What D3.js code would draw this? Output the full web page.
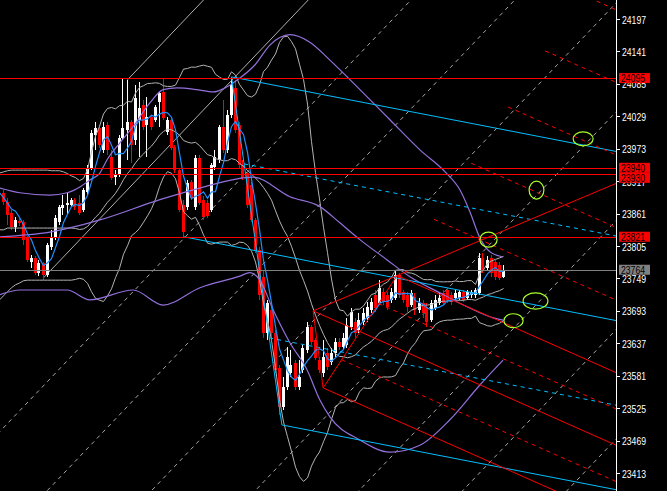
<!DOCTYPE html>
<html><head><meta charset="utf-8">
<script src="https://cdn.jsdelivr.net/npm/d3@7/dist/d3.min.js"></script>
<style>
html,body{margin:0;padding:0;background:#000;overflow:hidden}
svg{display:block}
text{font-family:"Liberation Sans Narrow","Liberation Sans",Arial,sans-serif;font-size:10.5px}
</style></head><body>
<svg id="chart" width="667" height="491"></svg>
<script>
// ---------- DATA ----------
const FIRST = -1; // index of first (partially visible) candle
const open = [23919,23897,23881,23862,23838,23848,23847,23819,23778,23784,23759,23776,23755,23803,23819,23847,23871,23876,23876,23885,23879,23867,23898,23940,23997,24009,23971,24014,23959,23924,23928,23992,24005,24019,23988,24023,24049,24014,24028,24023,24054,24071,24002,24023,23976,23936,23876,23872,23916,23872,23957,23885,23879,23867,23942,23954,24011,23971,24031,24078,24014,23945,23931,23910,23850,23798,23752,23655,23695,23655,23594,23527,23562,23586,23603,23562,23591,23625,23665,23643,23608,23586,23620,23605,23620,23639,23631,23634,23665,23674,23660,23674,23681,23695,23721,23707,23726,23721,23712,23715,23755,23726,23721,23703,23717,23695,23707,23700,23677,23698,23707,23724,23729,23721,23715,23715,23726,23715,23721,23721,23724,23784,23767,23784,23778,23772,23752];
const high = [23928,23902,23888,23867,23855,23854,23850,23822,23790,23788,23781,23778,23810,23833,23859,23876,23893,23897,23888,23888,23893,23905,23945,24005,24019,24014,24019,24019,23971,23936,23997,24095,24092,24023,24083,24088,24057,24062,24031,24049,24071,24093,24028,24028,23980,23940,23885,23919,23919,23962,23962,23892,23885,23948,23971,24014,24057,24040,24097,24092,24019,23954,23936,23916,23854,23803,23764,23712,23703,23660,23600,23579,23631,23625,23608,23608,23634,23674,23669,23646,23613,23643,23629,23629,23646,23646,23655,23681,23698,23681,23689,23698,23708,23715,23729,23746,23733,23726,23733,23764,23759,23729,23726,23729,23724,23715,23712,23707,23712,23721,23724,23729,23733,23726,23729,23729,23729,23729,23729,23733,23793,23793,23788,23790,23781,23778,23772];
const low = [23892,23876,23841,23833,23829,23840,23807,23778,23767,23755,23753,23746,23752,23798,23816,23841,23859,23859,23872,23867,23859,23864,23893,23936,23971,23974,23966,23962,23919,23910,23924,23988,23954,23948,23980,23959,24005,23959,24005,24019,24011,24023,23997,23971,23931,23864,23821,23867,23885,23867,23876,23850,23854,23864,23936,23948,23966,23966,24026,24000,23940,23919,23871,23847,23793,23712,23646,23643,23646,23586,23513,23522,23556,23579,23556,23556,23586,23620,23634,23608,23586,23579,23591,23600,23613,23625,23625,23629,23660,23646,23655,23669,23674,23689,23691,23703,23703,23695,23707,23712,23715,23707,23691,23700,23686,23689,23681,23665,23674,23695,23703,23703,23707,23703,23712,23712,23708,23712,23715,23715,23721,23759,23764,23752,23746,23746,23750];
const close = [23897,23881,23859,23838,23850,23845,23816,23781,23784,23759,23776,23755,23807,23819,23854,23872,23876,23879,23885,23872,23862,23902,23940,24000,24009,23980,24011,23971,23923,23928,23992,24009,24019,23980,24061,24043,24011,24028,24011,24045,24069,24026,24023,23974,23936,23867,23829,23914,23888,23957,23879,23855,23857,23945,23959,24011,23971,24031,24083,24005,23945,23924,23876,23850,23798,23721,23655,23707,23655,23591,23527,23562,23613,23600,23562,23579,23629,23665,23639,23612,23591,23613,23596,23620,23639,23631,23646,23669,23691,23655,23677,23689,23700,23708,23698,23733,23708,23700,23726,23755,23721,23712,23700,23724,23695,23707,23689,23674,23707,23712,23715,23707,23712,23708,23724,23726,23712,23726,23726,23729,23784,23764,23781,23759,23752,23750,23764];

const priceTicks = [24197,24141,24085,24029,23973,23917,23861,23805,23749,23693,23637,23581,23525,23469,23413];
const redLevels = [24095,23940,23930,23821];
const lastPrice = 23764;

// Bollinger(20) lead values (bars before a full window is available)
const grayUpperLead = [23931,23933,23935,23936,23936,23936,23936,23936,23936,23936,23936,23936,23936,23935,23935,23935,23933,23930,23926];
const grayMidLead   = [23833,23833,23836,23836,23836,23836,23836,23836,23836,23836,23836,23836,23836,23836,23836,23836,23836,23836,23836];
const grayLowerLead = [23712,23719,23726,23733,23738,23741,23745,23746,23746,23746,23746,23746,23746,23746,23746,23746,23746,23746,23746];

// slow band (purple): [bar, price]
const purpleUpper = [[-0.9,23905],[4.1,23897],[11.6,23893],[15.9,23897],[19.1,23907],[21.6,23919],[24.1,23931],[25.9,23954],[29.1,23983],[32.4,24011],[36.6,24052],[39.9,24075],[43.4,24078],[48.4,24075],[52.4,24071],[55.9,24080],[59.1,24095],[62.9,24118],[66.6,24152],[71.6,24170],[76.6,24157],[81.6,24126],[89.1,24075],[96.6,24023],[104.1,23971],[110.4,23933],[114.1,23902],[116.6,23864],[119.1,23819],[121.6,23795],[124.9,23786]];
const purpleMid = [[-0.9,23821],[11.6,23829],[24.1,23850],[39.1,23885],[49.1,23905],[62.4,23924],[71.6,23890],[79.1,23873],[84.1,23845],[89.1,23816],[95.9,23781],[101.6,23752],[109.1,23724],[115.9,23700],[122.4,23681],[124.9,23677]];
const purpleLower = [[-0.9,23721],[4.1,23729],[15.9,23729],[21.6,23712],[32.4,23729],[39.9,23703],[49.1,23733],[59.1,23753],[61.6,23759],[64.1,23746],[67.4,23695],[71.6,23638],[75.9,23591],[79.1,23539],[81.6,23510],[89.1,23470],[96.6,23449],[104.1,23461],[111.6,23505],[119.1,23565],[124.9,23608]];

// Andrews pitchforks: A, B, C anchor points [bar, price]
const blueFork = [[45,23821],[57,24097],[69.6,23496]];
const redFork  = [[77.4,23693],[98.4,23754],[79.9,23560]];
const forkLevels = [-1,-0.5,0.5,1,2,3,4,5,6];

// diagonal grid: prices at reference bar, slope in price per bar
const gridRefBar = 151;
const gridPrices = [24586,24398,24209,24021,23833,23645,23456];
const gridSlope = 7.25;
// solid rays parallel to the grid, from the two pivots [bar, price]
const gridRays = [[10,23750],[31,24092]];

// ellipses marked on chart: [bar1, price1, bar2, price2]
const ellipses = [[142.4,24002,147.4,23978],[131.4,23917,135.1,23886],[119.1,23829,123.4,23803],[129.9,23724,136.1,23696],[125.1,23688,129.9,23664]];

// ---------- DRAW ----------
const W=667,H=491,PR=616;
const svg=d3.select('#chart');
svg.append('rect').attr('width',W).attr('height',H).attr('fill','#000');
const x=d3.scaleLinear().domain([0,125]).range([3.5,503.5]);
const y=d3.scaleLinear().domain([23413,24197]).range([473,19]);
svg.append('defs').append('clipPath').attr('id','plot').append('rect').attr('x',0).attr('y',0).attr('width',PR).attr('height',H);
const g=svg.append('g').attr('clip-path','url(#plot)');
const line=d3.line().x(d=>x(d[0])).y(d=>y(d[1]));
const smooth=d3.line().x(d=>x(d[0])).y(d=>y(d[1])).curve(d3.curveMonotoneX);
const xEndBar=x.invert(PR+30), xStartBar=x.invert(-30);

// diagonal grid
const gGrid=g.append('g').attr('fill','none');
gridPrices.forEach(p=>{
  const p0=p+gridSlope*(xStartBar-gridRefBar), p1=p+gridSlope*(xEndBar-gridRefBar);
  gGrid.append('path').attr('d',line([[xStartBar,p0],[xEndBar,p1]])).attr('stroke','#a8a8a8').attr('stroke-width',1).attr('stroke-dasharray','4,4');
});
gridRays.forEach(P=>{
  gGrid.append('path').attr('d',line([P,[xEndBar,P[1]+gridSlope*(xEndBar-P[0])]])).attr('stroke','#b0b0b0');
});

// indicators
const N=20;
const gU=[],gM=[],gL=[];
close.forEach((c,k)=>{
  const i=FIRST+k;
  if(k>=N-1){const w=close.slice(k-N+1,k+1);const m=d3.mean(w);const sd=Math.sqrt(d3.mean(w,v=>(v-m)*(v-m)));gU.push([i,m+2*sd]);gM.push([i,m]);gL.push([i,m-2*sd]);}
  else{gU.push([i,grayUpperLead[k]]);gM.push([i,grayMidLead[k]]);gL.push([i,grayLowerLead[k]]);}
});
const ma=close.map((c,k)=>{const w=close.slice(Math.max(0,k-4),k+1);return [FIRST+k,d3.mean(w)];});
const gInd=g.append('g').attr('fill','none');
[gU,gM,gL].forEach(s=>gInd.append('path').attr('d',line(s)).attr('stroke','#b4b4b4').attr('stroke-width',1));
[purpleUpper,purpleMid,purpleLower].forEach(s=>gInd.append('path').attr('d',smooth(s)).attr('stroke','#9370db').attr('stroke-width',1.2));

// candles
const candles=open.map((o,k)=>({i:FIRST+k,o,h:high[k],l:low[k],c:close[k]}));
const gC=g.append('g').attr('shape-rendering','crispEdges');
candles.forEach(d=>{
  const col=d.c>=d.o?'#ffffff':'#ff0000';
  const cx=Math.round(x(d.i))-0.5;
  gC.append('line').attr('x1',cx).attr('x2',cx).attr('y1',y(Math.max(d.h,d.o,d.c))).attr('y2',y(Math.min(d.l,d.o,d.c))).attr('stroke',col);
  const top=y(Math.max(d.o,d.c)), bot=y(Math.min(d.o,d.c));
  gC.append('rect').attr('x',cx-1.5).attr('width',3).attr('y',top).attr('height',Math.max(1,bot-top)).attr('fill',col);
});
gInd.raise();
gInd.append('path').attr('d',line(ma)).attr('stroke','#1e90ff').attr('stroke-width',1.2);

// pitchforks
function fork(pts,color){
  const [A,B,C]=pts;
  const M=[(B[0]+C[0])/2,(B[1]+C[1])/2];
  const s=(M[1]-A[1])/(M[0]-A[0]);
  const gf=g.append('g').attr('fill','none').attr('stroke',color);
  const ray=(P)=>line([P,[xEndBar,P[1]+s*(xEndBar-P[0])]]);
  gf.append('path').attr('d',ray(A)).attr('stroke-width',1);
  forkLevels.forEach(k=>{
    const P=[M[0]+k*(B[0]-M[0]),M[1]+k*(B[1]-M[1])];
    const p=gf.append('path').attr('d',ray(P));
    if(Math.abs(k)!==1) p.attr('stroke-dasharray','4,4');
  });
  gf.append('path').attr('d',line([B,C]));
  return gf;
}
fork(blueFork,'#00bfff');
const rf=fork(redFork,'#ff0000');
{ // red triangle sides from A
  const [A,B,C]=redFork; const s=(B[1]-A[1])/(B[0]-A[0]);
  rf.append('path').attr('d',line([A,[xEndBar,A[1]+s*(xEndBar-A[0])]]));
  rf.append('path').attr('d',line([A,C]));
}

// horizontal levels
const gH=g.append('g').attr('shape-rendering','crispEdges');
redLevels.forEach(v=>gH.append('line').attr('x1',0).attr('x2',PR).attr('y1',Math.round(y(v))+0.5).attr('y2',Math.round(y(v))+0.5).attr('stroke','#ff0000'));
gH.append('line').attr('x1',0).attr('x2',PR).attr('y1',Math.round(y(lastPrice))+0.5).attr('y2',Math.round(y(lastPrice))+0.5).attr('stroke','#808080');

// ellipses
ellipses.forEach(e=>{
  const x1=x(e[0]),x2=x(e[2]),y1=y(e[1]),y2=y(e[3]);
  g.append('ellipse').attr('cx',(x1+x2)/2).attr('cy',(y1+y2)/2).attr('rx',Math.abs(x2-x1)/2).attr('ry',Math.abs(y2-y1)/2).attr('fill','none').attr('stroke','#a8ff2a').attr('stroke-width',1.2);
});

// axis
svg.append('line').attr('x1',PR+0.5).attr('x2',PR+0.5).attr('y1',0).attr('y2',H).attr('stroke','#fff').attr('shape-rendering','crispEdges');
const ax=d3.axisRight(y).tickValues(priceTicks).tickSize(4).tickSizeOuter(0).tickPadding(2).tickFormat(d3.format('d'));
const ag=svg.append('g').attr('transform',`translate(${PR},0)`).call(ax);
ag.select('.domain').remove();
ag.selectAll('line').attr('stroke','#fff').attr('shape-rendering','crispEdges');
ag.selectAll('text').attr('fill','#fff').attr('dy','0.38em').attr('textLength',24).attr('lengthAdjust','spacingAndGlyphs').style('font-family','"Liberation Sans Narrow","Liberation Sans",Arial,sans-serif').style('font-size','10.5px');

// price boxes (drawn over the scale, stacked when they collide)
const boxes=redLevels.map(v=>({v,fill:'#ff0000'})).concat([{v:lastPrice,fill:'#808080'}]);
boxes.sort((a,b)=>b.v-a.v);
let prevBottom=-1e9;
boxes.forEach(b=>{
  let top=y(b.v)-5; if(top<prevBottom) top=prevBottom; prevBottom=top+10;
  svg.append('rect').attr('x',619).attr('y',top).attr('width',31).attr('height',10).attr('fill',b.fill);
  svg.append('text').attr('x',621).attr('y',top+9).attr('fill','#000').attr('textLength',24).attr('lengthAdjust','spacingAndGlyphs').text(b.v);
});
</script></body></html>
